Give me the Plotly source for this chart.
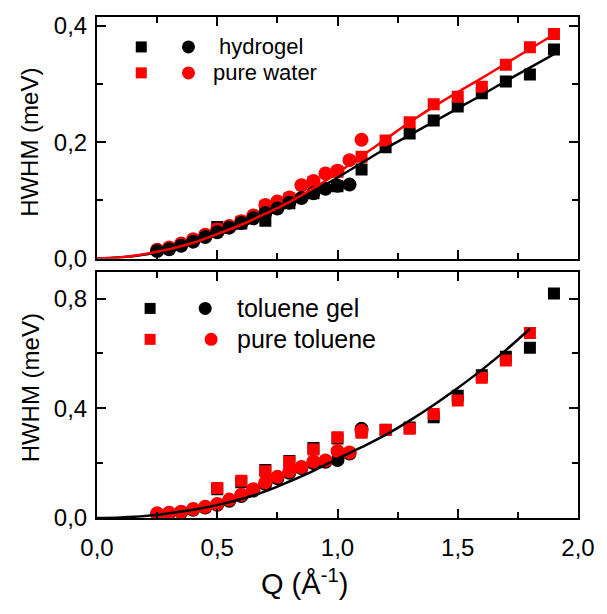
import plotly.graph_objects as go

# ---------------- data ----------------
# top panel: water
q_circ_top = [0.25, 0.30, 0.35, 0.40, 0.45, 0.50, 0.55, 0.60, 0.65, 0.70, 0.75,
              0.80, 0.85, 0.90, 0.95, 1.00, 1.05]
hydrogel_circ = [0.013, 0.016, 0.022, 0.029, 0.037, 0.045, 0.053, 0.061, 0.069, 0.078, 0.086,
                 0.096, 0.104, 0.112, 0.120, 0.125, 0.127]
q_circ_water = [0.25, 0.30, 0.35, 0.40, 0.45, 0.50, 0.55, 0.60, 0.65, 0.70, 0.75,
                0.80, 0.85, 0.90, 0.95, 1.00, 1.05, 1.10]
water_circ = [0.015, 0.019, 0.026, 0.033, 0.041, 0.050, 0.056, 0.064, 0.074, 0.092, 0.098,
              0.105, 0.126, 0.133, 0.146, 0.151, 0.169, 0.204]
q_sq = [0.5, 0.6, 0.7, 0.8, 0.9, 1.0, 1.1, 1.2, 1.3, 1.4, 1.5, 1.6, 1.7, 1.8, 1.9]
hydrogel_sq = [0.054, 0.060, 0.065, 0.095, 0.112, 0.124, 0.153, 0.191, 0.215, 0.237, 0.261,
               0.284, 0.304, 0.316, 0.359]
water_sq = [0.050, 0.063, 0.090, 0.103, 0.132, 0.149, 0.175, 0.203, 0.234, 0.265, 0.278,
            0.295, 0.333, 0.363, 0.386]
q_fit_top = [0.0, 0.1, 0.2, 0.3, 0.4, 0.5, 0.6, 0.7, 0.8, 0.9, 1.0, 1.1, 1.2, 1.3, 1.4,
             1.5, 1.6, 1.7, 1.8, 1.9]
hydrogel_fit = [0.0, 0.002, 0.007, 0.015, 0.026, 0.040, 0.055, 0.073, 0.093, 0.115, 0.139,
                0.164, 0.189, 0.212, 0.235, 0.258, 0.281, 0.305, 0.328, 0.351]
water_fit = [0.0, 0.002, 0.008, 0.016, 0.027, 0.042, 0.058, 0.077, 0.097, 0.121, 0.147,
             0.176, 0.205, 0.234, 0.261, 0.286, 0.310, 0.335, 0.360, 0.385]

# bottom panel: toluene
q_circ_bot = [0.25, 0.30, 0.35, 0.40, 0.45, 0.50, 0.55, 0.60, 0.65, 0.70, 0.75,
              0.80, 0.85, 0.90, 0.95, 1.00, 1.05, 1.10]
tolgel_circ = [0.015, 0.017, 0.021, 0.030, 0.038, 0.048, 0.063, 0.080, 0.100, 0.124, 0.145,
               0.165, 0.182, 0.200, 0.205, 0.211, 0.235, 0.325]
toluene_circ = [0.017, 0.019, 0.023, 0.033, 0.041, 0.051, 0.067, 0.085, 0.105, 0.130, 0.150,
                0.170, 0.186, 0.206, 0.210, 0.244, 0.239, 0.318]
tolgel_sq = [0.105, 0.130, 0.175, 0.208, 0.255, 0.290, 0.315, 0.322, 0.330, 0.367, 0.446,
             0.520, 0.588, 0.621, 0.818]
q_sq_tol = [0.5, 0.6, 0.7, 0.8, 0.9, 1.0, 1.1, 1.2, 1.3, 1.4, 1.5, 1.6, 1.7, 1.8]
toluene_sq = [0.109, 0.136, 0.170, 0.205, 0.250, 0.294, 0.311, 0.321, 0.325, 0.379, 0.428,
              0.511, 0.574, 0.674]
q_fit_bot = [0.0, 0.1, 0.2, 0.3, 0.4, 0.5, 0.6, 0.7, 0.8, 0.9, 1.0, 1.1, 1.2, 1.3, 1.4,
             1.5, 1.6, 1.7, 1.8]
toluene_fit = [0.0, 0.002, 0.007, 0.017, 0.030, 0.047, 0.069, 0.097, 0.133, 0.172, 0.216,
               0.258, 0.303, 0.355, 0.412, 0.474, 0.540, 0.612, 0.690]

x_ticks = [0.0, 0.5, 1.0, 1.5, 2.0]
y_top_ticks = [0.0, 0.2, 0.4]
y_bot_ticks = [0.0, 0.4, 0.8]

RED = "#ff0000"
BLK = "#000000"
FONT = "Arial, Liberation Sans, sans-serif"
SQ = 12
CI = 14

fig = go.Figure()

def add(x, y, color, symbol, size, xa, ya):
    fig.add_trace(go.Scatter(x=x, y=y, mode="markers", xaxis=xa, yaxis=ya,
                             marker=dict(symbol=symbol, size=size, color=color,
                                         line=dict(width=0)),
                             showlegend=False, hoverinfo="skip"))

def addline(x, y, color, xa, ya):
    fig.add_trace(go.Scatter(x=x, y=y, mode="lines", xaxis=xa, yaxis=ya,
                             line=dict(color=color, width=2.5, shape="spline"),
                             showlegend=False, hoverinfo="skip"))

# top panel
add(q_sq, hydrogel_sq, BLK, "square", SQ, "x", "y")
add(q_sq, water_sq, RED, "square", SQ, "x", "y")
add(q_circ_water, water_circ, RED, "circle", CI, "x", "y")
add(q_circ_top, hydrogel_circ, BLK, "circle", CI, "x", "y")
addline(q_fit_top, hydrogel_fit, BLK, "x", "y")
addline(q_fit_top, water_fit, RED, "x", "y")

# bottom panel
add(q_sq, tolgel_sq, BLK, "square", SQ, "x2", "y2")
add(q_circ_bot, tolgel_circ, BLK, "circle", CI, "x2", "y2")
add(q_sq_tol, toluene_sq, RED, "square", SQ, "x2", "y2")
add(q_circ_bot, toluene_circ, RED, "circle", CI, "x2", "y2")
addline(q_fit_bot, toluene_fit, BLK, "x2", "y2")

axis_common = dict(showline=True, linecolor="black", linewidth=2, mirror="ticks",
                   ticks="inside", ticklen=9, tickwidth=2, tickcolor="black",
                   showgrid=False, zeroline=False,
                   tickfont=dict(family=FONT, size=24, color="black"))

W, H = 607, 614
ML, MR, MT, MB = 97, 21, 16, 96
PW, PH = W - ML - MR, H - MT - MB
top_dom = [(518 - 258) / PH, 1.0]
bot_dom = [0.0, (518 - 272) / PH]

fig.update_layout(
    width=W, height=H, margin=dict(l=ML, r=MR, t=MT, b=MB),
    paper_bgcolor="white", plot_bgcolor="white", separators=",.",
    font=dict(family=FONT, color="black"),
    xaxis=dict(domain=[0, 1], anchor="y", range=[0, 2], tickvals=x_ticks,
               showticklabels=False,
               minor=dict(dtick=0.25, ticks="inside", ticklen=6, tickwidth=2, tickcolor="black"),
               **axis_common),
    yaxis=dict(domain=top_dom, anchor="x", range=[0, 0.415], tickvals=y_top_ticks,
               tickformat=".1f", ticklabelstandoff=3,
               minor=dict(dtick=0.1, ticks="inside", ticklen=6, tickwidth=2, tickcolor="black"),
               **axis_common),
    xaxis2=dict(domain=[0, 1], anchor="y2", range=[0, 2], tickvals=x_ticks,
                tickformat=".1f", ticklabelstandoff=7,
                minor=dict(dtick=0.25, ticks="inside", ticklen=6, tickwidth=2, tickcolor="black"),
                **axis_common),
    yaxis2=dict(domain=bot_dom, anchor="x2", range=[0, 0.895], tickvals=y_bot_ticks,
                tickformat=".1f", ticklabelstandoff=3,
                minor=dict(dtick=0.2, ticks="inside", ticklen=6, tickwidth=2, tickcolor="black"),
                **axis_common),
)

def px(xp):
    return (xp - ML) / PW

def py(yp):
    return (H - MB - yp) / PH

ann = []
shapes = []

def legend_row(xs, xc, xt, yc, color, label, size):
    shapes.append(dict(type="rect", xref="paper", yref="paper", xsizemode="pixel",
                       ysizemode="pixel", xanchor=px(xs), yanchor=py(yc),
                       x0=-5.5, x1=5.5, y0=-5.5, y1=5.5,
                       fillcolor=color, line=dict(width=0)))
    shapes.append(dict(type="circle", xref="paper", yref="paper", xsizemode="pixel",
                       ysizemode="pixel", xanchor=px(xc), yanchor=py(yc),
                       x0=-6.5, x1=6.5, y0=-6.5, y1=6.5,
                       fillcolor=color, line=dict(width=0)))
    ann.append(dict(text=label, xref="paper", yref="paper", x=px(xt), y=py(yc),
                    xanchor="left", yanchor="middle", showarrow=False,
                    font=dict(family=FONT, size=size, color="black")))

legend_row(142, 190, 219, 46, BLK, "hydrogel", 22)
legend_row(142, 190, 213, 72, RED, "pure water", 22)
legend_row(151, 207, 237, 308, BLK, "toluene gel", 25)
legend_row(151, 213, 237, 339, RED, "pure toluene", 25)

ann.append(dict(text="HWHM (meV)", xref="paper", yref="paper", x=px(29), y=py(142),
                xanchor="center", yanchor="middle", textangle=-90, showarrow=False,
                font=dict(family=FONT, size=24, color="black")))
ann.append(dict(text="HWHM (meV)", xref="paper", yref="paper", x=px(29), y=py(388),
                xanchor="center", yanchor="middle", textangle=-90, showarrow=False,
                font=dict(family=FONT, size=24, color="black")))
ann.append(dict(text="Q (Å<sup>-1</sup>)", xref="paper", yref="paper", x=px(308), y=py(582),
                xanchor="center", yanchor="middle", showarrow=False,
                font=dict(family=FONT, size=29, color="black")))

fig.update_layout(annotations=ann, shapes=shapes)
fig.write_html("out.html", config={"displayModeBar": False},
               post_script="document.body.style.margin='0px';")
